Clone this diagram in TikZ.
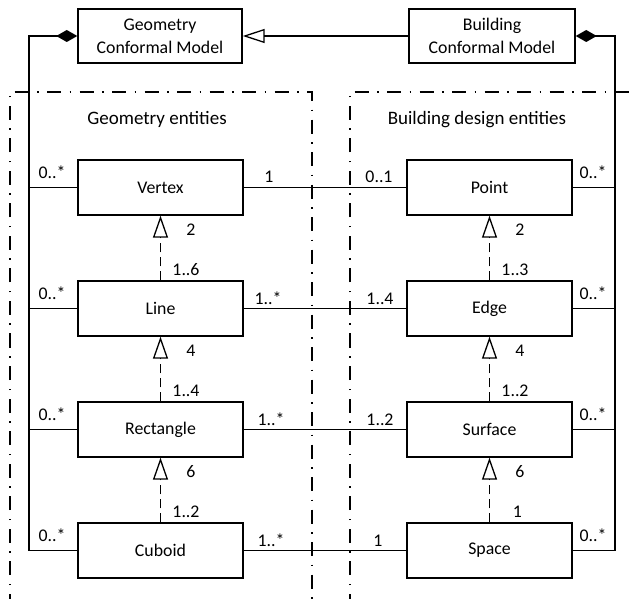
\documentclass[tikz,border=0pt]{standalone}
\usepackage{fontspec}
\setmainfont{Carlito}
\usetikzlibrary{arrows.meta}
\begin{document}
\begin{tikzpicture}[x=1bp,y=-1bp,
  txt/.style={font=\fontsize{17.8bp}{23bp}\selectfont},
  box/.style={txt, draw, line width=1.4bp, minimum width=165bp, minimum height=55bp, inner sep=0pt, align=center},
  lbl/.style={txt, inner sep=0pt, anchor=base},
  title/.style={lbl, font=\fontsize{19bp}{23bp}\selectfont},
  frame/.style={line width=1.6bp, dash pattern=on 14bp off 8.5bp on 1.5bp off 8.5bp},
  assoc/.style={line width=1.3bp},
  gen/.style={line width=1.3bp, dash pattern=on 9bp off 5bp, -{Triangle[open,length=22bp,width=15bp]}},
  inherit/.style={line width=1.3bp, -{Triangle[open,length=22bp,width=14bp]}},
  comp/.style={line width=1.8bp, {Diamond[length=21bp,width=12bp]}-}
]
\useasboundingbox (0,0) rectangle (630,599);
% frames
\draw[frame] (10,640) -- (10,92) -- (312,92) -- (312,640);
\draw[frame] (350,640) -- (350,92) -- (660,92);
\node[title] (tg) at (157,125) {Geometry entities};
\node[title] (tb) at (477,125) {Building design entities};
% top models
\node[box, minimum width=164bp, minimum height=54bp] (gcm) at (160,36) {Geometry\\Conformal Model};
\node[box, minimum width=166bp, minimum height=54bp] (bcm) at (492,36) {Building\\Conformal Model};
\draw[inherit] (bcm) -- (gcm);
% entities
\node[box] (vertex) at (160.5,187.5) {Vertex};
\node[box] (line) at (160.5,308.5) {Line};
\node[box] (rect) at (160.5,429.5) {Rectangle};
\node[box] (cub) at (160.5,550.5) {Cuboid};
\node[box] (point) at (489.5,187.5) {Point};
\node[box] (edge) at (489.5,308.5) {Edge};
\node[box] (surf) at (489.5,429.5) {Surface};
\node[box] (space) at (489.5,550.5) {Space};
% composition
\coordinate (lc) at (29,550.5);
\coordinate (rc) at (615,550.5);
\draw[comp] (gcm.west) -| (lc);
\draw[comp] (bcm.east) -| (rc);
\foreach \n in {vertex,line,rect,cub} \draw[assoc] (\n.west) -- (\n.west -| lc);
\foreach \n in {point,edge,surf,space} \draw[assoc] (\n.east) -- (\n.east -| rc);
% associations
\draw[assoc] (vertex) -- (point);
\draw[assoc] (line) -- (edge);
\draw[assoc] (rect) -- (surf);
\draw[assoc] (cub) -- (space);
% generalisations
\draw[gen] (line) -- (vertex);
\draw[gen] (rect) -- (line);
\draw[gen] (cub) -- (rect);
\draw[gen] (edge) -- (point);
\draw[gen] (surf) -- (edge);
\draw[gen] (space) -- (surf);
% multiplicities left composition
\node[lbl] (m1) at (52,178.5) {0..*};
\node[lbl] (m2) at (52,299.5) {0..*};
\node[lbl] (m3) at (52,420.5) {0..*};
\node[lbl] (m4) at (52,541.5) {0..*};
\node[lbl] (m5) at (593,178.5) {0..*};
\node[lbl] (m6) at (593,299.5) {0..*};
\node[lbl] (m7) at (593,420.5) {0..*};
\node[lbl] (m8) at (593,541.5) {0..*};
% association ends
\node[lbl] (a1) at (269,183) {1};
\node[lbl] (a2) at (268,304) {1..*};
\node[lbl] (a3) at (271,425) {1..*};
\node[lbl] (a4) at (271,546) {1..*};
\node[lbl] (b1) at (379,183) {0..1};
\node[lbl] (b2) at (380,304) {1..4};
\node[lbl] (b3) at (380,425) {1..2};
\node[lbl] (b4) at (378,546) {1};
% generalisation ends
\node[lbl] (g1) at (191,235) {2};
\node[lbl] (g2) at (186,275) {1..6};
\node[lbl] (g3) at (191,356) {4};
\node[lbl] (g4) at (186,396) {1..4};
\node[lbl] (g5) at (191,477) {6};
\node[lbl] (g6) at (186,517) {1..2};
\node[lbl] (h1) at (520,235) {2};
\node[lbl] (h2) at (515,275) {1..3};
\node[lbl] (h3) at (520,356) {4};
\node[lbl] (h4) at (515,396) {1..2};
\node[lbl] (h5) at (520,477) {6};
\node[lbl] (h6) at (517.5,517) {1};
\end{tikzpicture}
\end{document}
